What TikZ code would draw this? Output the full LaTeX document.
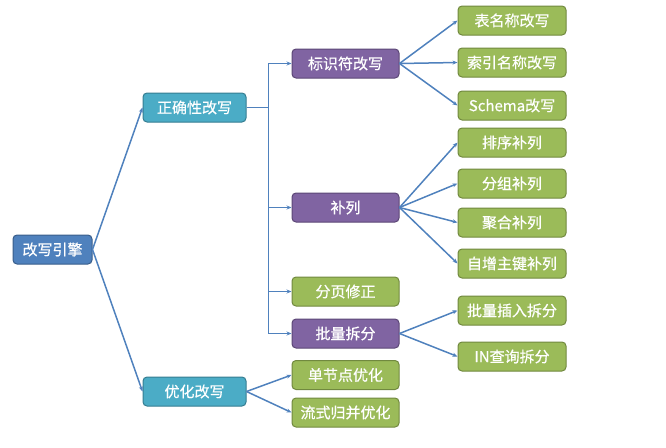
\documentclass[tikz,border=0pt]{standalone}
\usepackage{fontspec}
\setmainfont[FakeBold=0.6]{Noto Sans CJK SC}
\usetikzlibrary{arrows.meta}
\definecolor{rootfill}{HTML}{4F81BD}
\definecolor{rootdraw}{HTML}{385D8A}
\definecolor{cyanfill}{HTML}{4BACC6}
\definecolor{cyandraw}{HTML}{357D91}
\definecolor{purpfill}{HTML}{8064A2}
\definecolor{purpdraw}{HTML}{5C4776}
\definecolor{grnfill}{HTML}{9BBB59}
\definecolor{grndraw}{HTML}{71893F}
\definecolor{linec}{HTML}{4F81BD}
\begin{document}
\begin{tikzpicture}[x=1pt,y=1pt,
  box/.style={rectangle,rounded corners=4pt,line width=1pt,minimum height=29pt,
    inner sep=0pt,text=white,font=\fontsize{15}{17}\selectfont},
  rootbox/.style={box,fill=rootfill,draw=rootdraw,minimum width=79pt},
  cyanbox/.style={box,fill=cyanfill,draw=cyandraw,minimum width=103pt},
  purpbox/.style={box,fill=purpfill,draw=purpdraw,minimum width=107pt},
  grnbox/.style={box,fill=grnfill,draw=grndraw,minimum width=107pt},
  leafbox/.style={box,fill=grnfill,draw=grndraw,minimum width=108pt},
  conn/.style={draw=linec,line width=1.5pt,-{Stealth[length=5pt,width=4pt]}}
]
\useasboundingbox (0,0) rectangle (666,-447);

\node[rootbox] (root) at (52.5,-249.5) {改写引擎};
\node[cyanbox] (zq) at (194.5,-107.5) {正确性改写};
\node[cyanbox] (yh) at (194.5,-391.5) {优化改写};

\node[purpbox] (bsf) at (345.5,-63.5) {标识符改写};
\node[purpbox] (bl) at (345.5,-207.5) {补列};
\node[grnbox] (fy) at (345.5,-291.5) {分页修正};
\node[purpbox] (plcf) at (345.5,-333.5) {批量拆分};
\node[grnbox] (jd) at (345.5,-375) {单节点优化};
\node[grnbox] (ls) at (345.5,-412.5) {流式归并优化};

\node[leafbox] (g1) at (512,-20.5) {表名称改写};
\node[leafbox] (g2) at (512,-62.5) {索引名称改写};
\node[leafbox] (g3) at (512,-105.5) {Schema改写};
\node[leafbox] (g4) at (512,-142.5) {排序补列};
\node[leafbox] (g5) at (512,-183.5) {分组补列};
\node[leafbox] (g6) at (512,-222.5) {聚合补列};
\node[leafbox] (g7) at (512,-263.5) {自增主键补列};
\node[leafbox] (g8) at (512,-310.5) {批量插入拆分};
\node[leafbox] (g9) at (512,-356.5) {IN查询拆分};

\coordinate (bus) at (268.5,-107.5);

\draw[conn] (root.east) -- (zq.west);
\draw[conn] (root.east) -- (yh.west);

\foreach \t in {bsf,bl,fy,plcf}
  \draw[conn] (zq.east) -- (bus) |- (\t.west);

\foreach \t in {g1,g2,g3}
  \draw[conn] (bsf.east) -- (\t.west);
\foreach \t in {g4,g5,g6,g7}
  \draw[conn] (bl.east) -- (\t.west);
\foreach \t in {g8,g9}
  \draw[conn] (plcf.east) -- (\t.west);
\foreach \t in {jd,ls}
  \draw[conn] (yh.east) -- (\t.west);
\end{tikzpicture}
\end{document}
